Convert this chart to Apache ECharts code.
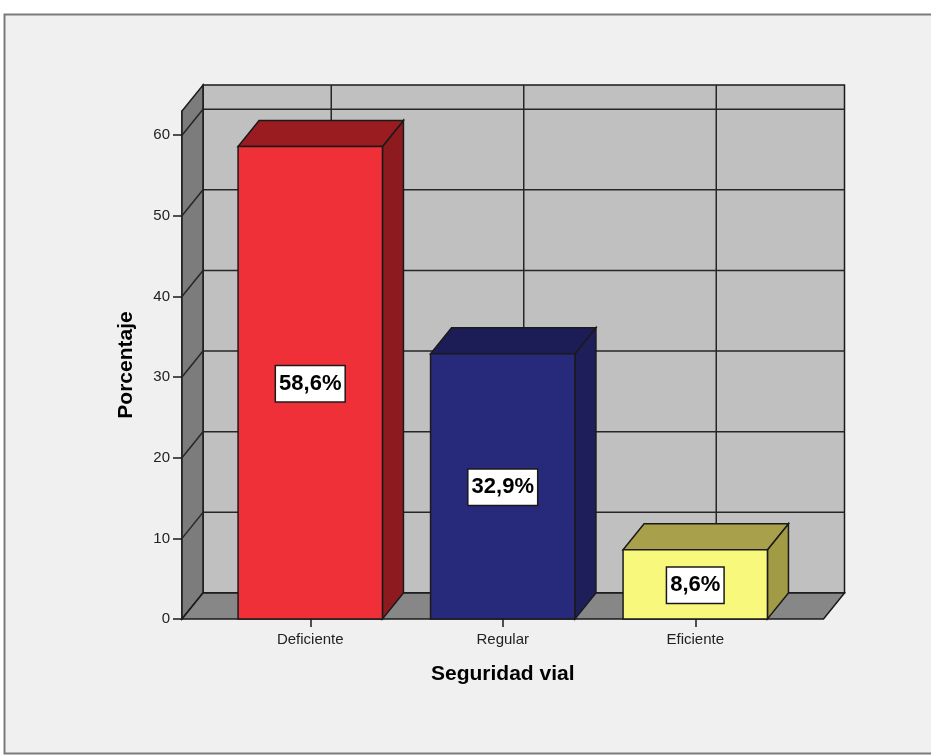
<!DOCTYPE html>
<html>
<head>
<meta charset="utf-8">
<script src="https://cdn.jsdelivr.net/npm/echarts@6/dist/echarts.min.js"></script>
<style>
html, body { margin: 0; padding: 0; background: #ffffff; }
#main { width: 931px; height: 756px; }
</style>
</head>
<body>
<div id="main"></div>
<script>
// datos
var categorias = ['Deficiente', 'Regular', 'Eficiente'];
var porcentajes = [58.6, 32.9, 8.6];
var yTicks = [0, 10, 20, 30, 40, 50, 60];

var frente = ['#f03038', '#272a7a', '#f8f87c'];
var arriba = ['#9a1c21', '#1c1d56', '#a8a04a'];
var lado = ['#8c1a1e', '#1e1f5a', '#a19b46'];

var EXT = 32;      // el marco sobresale de la rejilla
var DX = 21, DY = -26;  // profundidad 3D
var FUENTE = '"Liberation Sans", Arial, sans-serif';

var chart = echarts.init(document.getElementById('main'));

function poly(pts, fill) {
    return {
        type: 'polygon',
        shape: { points: pts },
        style: { fill: fill, stroke: '#1a1a1a', lineWidth: 1.5, lineJoin: 'miter' }
    };
}
function line(x1, y1, x2, y2) {
    return {
        type: 'line',
        shape: { x1: x1, y1: y1, x2: x2, y2: y2 },
        style: { stroke: '#262626', lineWidth: 1.5 }
    };
}

function renderMarco(params, api) {
    var cs = params.coordSys;
    var x0 = cs.x - EXT, x1 = cs.x + cs.width + EXT;
    var yb = cs.y + cs.height, yt = cs.y;
    var ch = [];
    // pared del fondo
    ch.push(poly([[x0 + DX, yt + DY], [x1 + DX, yt + DY], [x1 + DX, yb + DY], [x0 + DX, yb + DY]], '#c0c0c0'));
    // lineas horizontales
    for (var i = 0; i < yTicks.length; i++) {
        var py = api.coord([0, yTicks[i]])[1];
        ch.push(line(x0 + DX, py + DY, x1 + DX, py + DY));
    }
    // lineas verticales en cada categoria
    for (var j = 0; j < categorias.length; j++) {
        var px = api.coord([j, 0])[0];
        ch.push(line(px + DX, yt + DY, px + DX, yb + DY));
    }
    // pared lateral
    ch.push(poly([[x0, yb], [x0, yt], [x0 + DX, yt + DY], [x0 + DX, yb + DY]], '#7c7c7c'));
    for (var k = 0; k < yTicks.length; k++) {
        var ty = api.coord([0, yTicks[k]])[1];
        ch.push(line(x0, ty, x0 + DX, ty + DY));
    }
    // suelo
    ch.push(poly([[x0, yb], [x1, yb], [x1 + DX, yb + DY], [x0 + DX, yb + DY]], '#878787'));
    return { type: 'group', children: ch };
}

function renderBarra(params, api) {
    var idx = api.value(0);
    var val = api.value(1);
    var top = api.coord([idx, val]);
    var base = api.coord([idx, 0]);
    var bw = api.size([1, 0])[0] * 0.75;
    var l = top[0] - bw / 2, r = top[0] + bw / 2;
    var t = top[1], b = base[1];
    var i = params.dataIndex;
    var texto = val.toFixed(1).replace('.', ',') + '%';
    return {
        type: 'group',
        children: [
            poly([[r, b], [r, t], [r + DX, t + DY], [r + DX, b + DY]], lado[i]),
            poly([[l, t], [r, t], [r + DX, t + DY], [l + DX, t + DY]], arriba[i]),
            poly([[l, t], [r, t], [r, b], [l, b]], frente[i]),
            {
                type: 'text',
                style: {
                    text: texto,
                    x: top[0],
                    y: (t + b) / 2 + 1,
                    align: 'center',
                    verticalAlign: 'middle',
                    font: 'bold 22px ' + FUENTE,
                    fill: '#000',
                    backgroundColor: '#ffffff',
                    borderColor: '#1a1a1a',
                    borderWidth: 1.5,
                    padding: [7, 3, 6, 3]
                }
            }
        ]
    };
}

var option = {
    backgroundColor: '#ffffff',
    animation: false,
    textStyle: { fontFamily: FUENTE },
    graphic: [{
        type: 'rect',
        z: -10,
        shape: { x: 4.5, y: 14.5, width: 940, height: 739 },
        style: { fill: '#f0f0f0', stroke: '#7a7a7a', lineWidth: 2 }
    }],
    grid: {
        left: 214,
        top: 111,
        width: 577.5,
        height: 508
    },
    xAxis: {
        type: 'category',
        data: categorias,
        name: 'Seguridad vial',
        nameLocation: 'middle',
        nameGap: 45,
        nameTextStyle: { fontSize: 21, fontWeight: 'bold', color: '#000' },
        axisLine: { show: false },
        axisTick: { show: true, alignWithLabel: true, length: 8, lineStyle: { color: '#1a1a1a', width: 1.5 } },
        axisLabel: { fontSize: 15, color: '#222', margin: 13 },
        splitLine: { show: false },
        z: 10
    },
    yAxis: {
        type: 'value',
        min: 0,
        max: 63,
        offset: EXT,
        name: 'Porcentaje',
        nameLocation: 'middle',
        nameGap: 45,
        nameTextStyle: { fontSize: 21, fontWeight: 'bold', color: '#000' },
        axisLine: { show: true, lineStyle: { color: '#1a1a1a', width: 1.5 } },
        axisTick: { show: true, length: 9, customValues: yTicks, lineStyle: { color: '#1a1a1a', width: 1.5 } },
        axisLabel: { fontSize: 15, color: '#222', margin: 12, customValues: yTicks },
        splitLine: { show: false }
    },
    series: [
        {
            type: 'custom',
            z: 1,
            renderItem: renderMarco,
            data: [[0, 0]],
            silent: true
        },
        {
            type: 'custom',
            z: 2,
            renderItem: renderBarra,
            encode: { x: 0, y: 1 },
            data: porcentajes.map(function (v, i) { return [i, v]; })
        }
    ]
};

chart.setOption(option);
</script>
</body>
</html>
